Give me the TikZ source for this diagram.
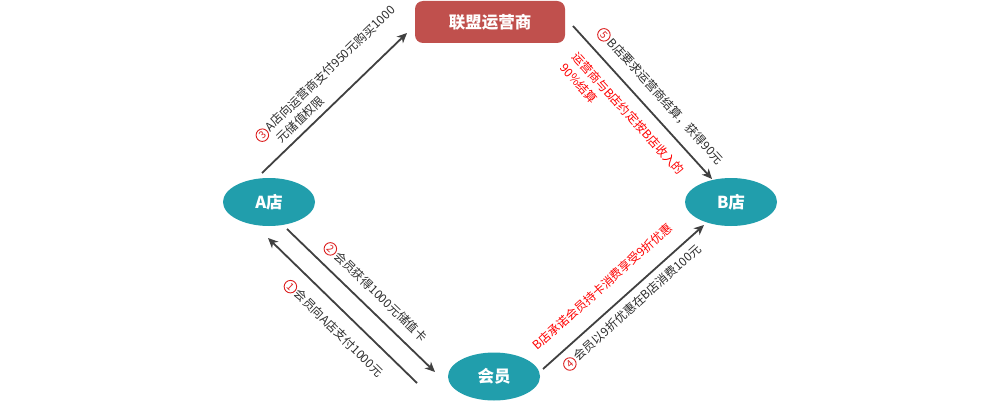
\documentclass[tikz,border=0pt]{standalone}
\usepackage{fontspec}
\setmainfont{Noto Sans CJK SC}
\usetikzlibrary{arrows.meta,shapes.geometric}
\definecolor{tealfill}{RGB}{33,158,172}
\definecolor{boxred}{RGB}{192,80,77}
\definecolor{arrowgray}{RGB}{64,64,64}
\definecolor{txtgray}{RGB}{45,45,45}
\definecolor{numred}{RGB}{220,30,30}
\definecolor{lblred}{RGB}{255,0,0}
\newcommand\cnum[1]{\tikz[baseline=(cc.base)]\node[circle,draw=numred,line width=0.9pt,text=numred,inner sep=0pt,minimum size=12.5pt,font=\fontsize{10}{10}\selectfont](cc){#1};\hspace{1.5pt}}
\begin{document}
\begin{tikzpicture}[x=1pt,y=-1pt,
  shopnode/.style={ellipse,fill=tealfill,draw=none,minimum width=92pt,minimum height=48pt,inner sep=0pt,text=white,font=\fontsize{16.5}{16.5}\selectfont\bfseries},
  opbox/.style={rectangle,rounded corners=8pt,fill=boxred,draw=none,minimum width=150pt,minimum height=42pt,inner sep=0pt,text=white,font=\fontsize{16.5}{16.5}\selectfont\bfseries},
  flow/.style={draw=arrowgray,line width=1.8pt,-{Stealth[length=10pt,width=9pt,inset=3pt]}},
  lbl/.style={inner sep=0pt,align=left,text=txtgray,font=\fontsize{12}{16}\selectfont},
  rlbl/.style={lbl,text=lblred}]
\useasboundingbox[fill=white] (0,0) rectangle (1000,404);
% nodes
\node[opbox] (op) at (490,22) {联盟运营商};
\node[shopnode] (A) at (269,202) {A店};
\node[shopnode] (B) at (731,202) {B店};
\node[shopnode] (M) at (494,376.5) {会员};
% connector end points
\coordinate (s1) at (417,383); \coordinate (e1) at (268,238);
\coordinate (s2) at (287,229); \coordinate (e2) at (435,372);
\coordinate (s3) at (262,173); \coordinate (e3) at (407,33);
\coordinate (s4) at (543,369); \coordinate (e4) at (704,225);
\coordinate (s5) at (573,26);  \coordinate (e5) at (712,179);
\draw[flow] (s1) -- (e1);
\draw[flow] (s2) -- (e2);
\draw[flow] (s3) -- (e3);
\draw[flow] (s4) -- (e4);
\draw[flow] (s5) -- (e5);
% labels
\node[lbl,rotate=44] (l3) at (331,80) {\cnum{3}A店向运营商支付950元购买1000\\\phantom{\cnum{3}}元储值权限};
\node[lbl,rotate=-47.7] (l5) at (660,96.5) {\cnum{5}B店要求运营商结算，获得90元};
\node[rlbl,rotate=-47.7] (r5) at (622.5,119) {运营商与B店约定按B店收入的\\90\%结算};
\node[rlbl,rotate=41.8] (r4) at (602.5,286.5) {B店承诺会员持卡消费享受9折优惠};
\node[lbl,rotate=41.8] (l4) at (632.5,308) {\cnum{4}会员以9折优惠在B店消费100元};
\node[lbl,rotate=-44] (l2) at (375,292) {\cnum{2}会员获得1000元储值卡};
\node[lbl,rotate=-44.5] (l1) at (333,328.5) {\cnum{1}会员向A店支付1000元};
\end{tikzpicture}
\end{document}
